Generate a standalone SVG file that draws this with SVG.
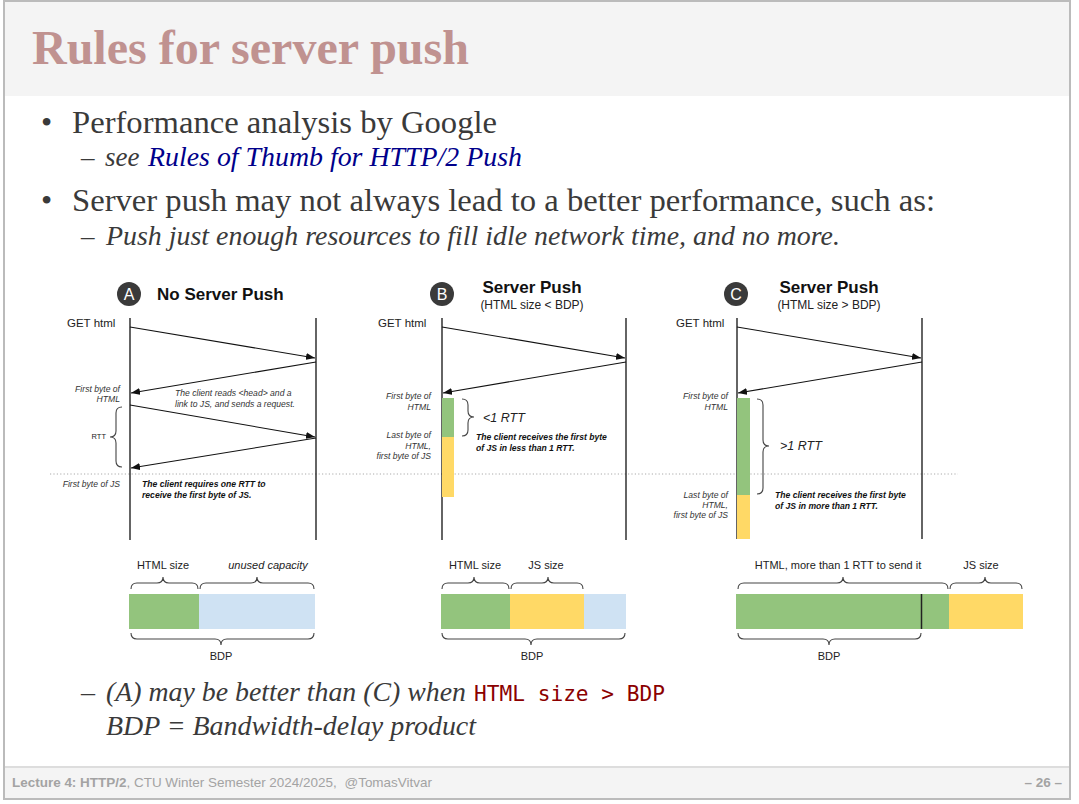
<svg xmlns="http://www.w3.org/2000/svg" width="1079" height="804" viewBox="0 0 1079 804">
  <style>
    .serif { font-family: "Liberation Serif", "Times New Roman", serif; fill: #3a3a3a; }
    .sans { font-family: "Liberation Sans", Arial, sans-serif; fill: #222; }
    .note { font-family: "Liberation Sans", Arial, sans-serif; font-size: 8.6px; font-style: italic; fill: #333; }
    .noteb { font-family: "Liberation Sans", Arial, sans-serif; font-size: 8.6px; font-style: italic; font-weight: bold; fill: #111; }
    .lbl { font-family: "Liberation Sans", Arial, sans-serif; font-size: 11px; fill: #222; }
    .life { stroke: #111; stroke-width: 1.3; fill: none; }
    .msg { stroke: #111; stroke-width: 1.1; fill: none; marker-end: url(#arrow); }
    .brace { stroke: #444; stroke-width: 1.1; fill: none; }
    .badge { fill: #3a3a3a; }
    .badgetxt { font-family: "Liberation Sans", Arial, sans-serif; font-size: 16px; fill: #fff; text-anchor: middle; }
    .head { font-family: "Liberation Sans", Arial, sans-serif; font-size: 17px; font-weight: bold; fill: #111; }
    .green { fill: #93c47d; }
    .yellow { fill: #ffd966; }
    .blue { fill: #cfe2f3; }
  </style>
  <defs>
    <marker id="arrow" markerUnits="userSpaceOnUse" markerWidth="9" markerHeight="7" refX="9" refY="3.5" orient="auto">
      <path d="M0,0 L9,3.5 L0,7 z" fill="#111"/>
    </marker>
  </defs>

  <!-- slide frame -->
  <rect x="0" y="0" width="1079" height="804" fill="#fff"/>
  <rect x="4" y="1" width="1066" height="798" fill="#fff" stroke="#bbb" stroke-width="2"/>
  <rect x="5" y="2" width="1064" height="94" fill="#f4f4f4"/>
  <rect x="5" y="767" width="1064" height="31" fill="#f4f4f4"/>
  <line x1="5" y1="767" x2="1069" y2="767" stroke="#ddd" stroke-width="2"/>

  <!-- title -->
  <text x="32" y="64" font-family="Liberation Serif, 'Times New Roman', serif" font-size="48" font-weight="bold" fill="#c09290">Rules for server push</text>

  <!-- bullet text -->
  <g id="bullets">
    <text class="serif" x="41" y="133" font-size="32">•</text>
    <text class="serif" x="72" y="133" font-size="32" textLength="425" lengthAdjust="spacingAndGlyphs">Performance analysis by Google</text>
    <text class="serif" x="81" y="166" font-size="27">–</text>
    <text class="serif" x="105" y="166" font-size="27" font-style="italic">see</text>
    <text x="148" y="166" font-family="Liberation Serif, 'Times New Roman', serif" font-size="27" font-style="italic" fill="#00008b" textLength="374" lengthAdjust="spacingAndGlyphs">Rules of Thumb for HTTP/2 Push</text>
    <text class="serif" x="41" y="211" font-size="32">•</text>
    <text class="serif" x="72" y="211" font-size="32" textLength="863" lengthAdjust="spacingAndGlyphs">Server push may not always lead to a better performance, such as:</text>
    <text class="serif" x="81" y="245" font-size="27">–</text>
    <text class="serif" x="106" y="245" font-size="27" font-style="italic" textLength="734" lengthAdjust="spacingAndGlyphs">Push just enough resources to fill idle network time, and no more.</text>
  </g>

  <!-- separator between request phase and response phase -->
  <line x1="50" y1="474" x2="958" y2="474" stroke="#aaa" stroke-width="1" stroke-dasharray="1.2,2.2"/>

  <!-- A: no server push -->
  <g id="panel-a">
    <circle class="badge" cx="129" cy="294" r="12"/>
    <text class="badgetxt" x="129" y="300">A</text>
    <text class="head" x="157" y="300">No Server Push</text>
    <text class="sans" x="67" y="327" font-size="11.5">GET html</text>
    <line class="life" x1="130" y1="318" x2="130" y2="540"/>
    <line class="life" x1="316" y1="318" x2="316" y2="540"/>
    <text class="note" x="120" y="392" text-anchor="end">First byte of</text>
    <text class="note" x="120" y="402" text-anchor="end">HTML</text>
    <text class="note" x="175" y="396">The client reads &lt;head&gt; and a</text>
    <text class="note" x="175" y="407">link to JS, and sends a request.</text>
    <path class="brace" d="M122,407 Q116,407 116,413 L116,431 Q116,437 110,437 Q116,437 116,443 L116,461 Q116,467 122,467"/>
    <text class="sans" x="106" y="439" font-size="7.5" text-anchor="end">RTT</text>
    <text class="note" x="120" y="487" text-anchor="end">First byte of JS</text>
    <text class="noteb" x="142" y="487">The client requires one RTT to</text>
    <text class="noteb" x="142" y="498">receive the first byte of JS.</text>
  </g>

  <!-- B: push, HTML smaller than BDP -->
  <g id="panel-b">
    <circle class="badge" cx="442" cy="294" r="12"/>
    <text class="badgetxt" x="442" y="300">B</text>
    <text class="head" x="532" y="293" text-anchor="middle">Server Push</text>
    <text class="sans" x="532" y="309" font-size="12" text-anchor="middle">(HTML size &lt; BDP)</text>
    <text class="sans" x="378" y="327" font-size="11.5">GET html</text>
    <line class="life" x1="442" y1="318" x2="442" y2="540"/>
    <line class="life" x1="626" y1="318" x2="626" y2="540"/>
    <rect class="green" x="442" y="398" width="12" height="39"/>
    <rect class="yellow" x="442" y="437" width="12" height="60"/>
    <text class="note" x="431" y="399" text-anchor="end">First byte of</text>
    <text class="note" x="431" y="410" text-anchor="end">HTML</text>
    <text class="note" x="431" y="438" text-anchor="end">Last byte of</text>
    <text class="note" x="431" y="449" text-anchor="end">HTML,</text>
    <text class="note" x="431" y="459" text-anchor="end">first byte of JS</text>
    <path class="brace" d="M462,399 Q468,399 468,405 L468,411 Q468,417 474,417 Q468,417 468,423 L468,430 Q468,436 462,436"/>
    <text class="sans" x="483" y="422" font-size="12.5" font-style="italic">&lt;1 RTT</text>
    <text class="noteb" x="476" y="440">The client receives the first byte</text>
    <text class="noteb" x="476" y="451">of JS in less than 1 RTT.</text>
  </g>

  <!-- C: push, HTML larger than BDP -->
  <g id="panel-c">
    <circle class="badge" cx="736" cy="294" r="12"/>
    <text class="badgetxt" x="736" y="300">C</text>
    <text class="head" x="829" y="293" text-anchor="middle">Server Push</text>
    <text class="sans" x="829" y="309" font-size="12" text-anchor="middle">(HTML size &gt; BDP)</text>
    <text class="sans" x="676" y="327" font-size="11.5">GET html</text>
    <line class="life" x1="737" y1="318" x2="737" y2="539"/>
    <line class="life" x1="922" y1="318" x2="922" y2="539"/>
    <rect class="green" x="737" y="398" width="13" height="97"/>
    <rect class="yellow" x="737" y="495" width="13" height="44"/>
    <text class="note" x="728" y="399" text-anchor="end">First byte of</text>
    <text class="note" x="728" y="410" text-anchor="end">HTML</text>
    <path class="brace" d="M757,399 Q763,399 763,405 L763,440 Q763,446 769,446 Q763,446 763,452 L763,488 Q763,494 757,494"/>
    <text class="sans" x="780" y="450" font-size="12.5" font-style="italic">&gt;1 RTT</text>
    <text class="note" x="728" y="498" text-anchor="end">Last byte of</text>
    <text class="note" x="728" y="508" text-anchor="end">HTML,</text>
    <text class="note" x="728" y="518" text-anchor="end">first byte of JS</text>
    <text class="noteb" x="775" y="498">The client receives the first byte</text>
    <text class="noteb" x="775" y="509">of JS in more than 1 RTT.</text>
  </g>

  <!-- request / response messages -->
  <g id="connectors">
    <line class="msg" x1="130" y1="327" x2="315" y2="358"/>
    <line class="msg" x1="316" y1="362" x2="131" y2="393"/>
    <line class="msg" x1="130" y1="405" x2="315" y2="437"/>
    <line class="msg" x1="316" y1="438" x2="131" y2="468"/>
    <line class="msg" x1="442" y1="327" x2="625" y2="358"/>
    <line class="msg" x1="626" y1="362" x2="443" y2="393"/>
    <line class="msg" x1="737" y1="327" x2="921" y2="358"/>
    <line class="msg" x1="922" y1="362" x2="738" y2="393"/>
  </g>

  <!-- capacity bars -->
  <g id="bar-a">
    <text class="lbl" x="163" y="569" text-anchor="middle">HTML size</text>
    <text class="lbl" x="268" y="569" text-anchor="middle" font-style="italic">unused capacity</text>
    <path class="brace" d="M131,589 Q131,583 137,583 L157,583 Q163,583 163,577 Q163,583 169,583 L192,583 Q198,583 198,589"/>
    <path class="brace" d="M200,589 Q200,583 206,583 L251,583 Q257,583 257,577 Q257,583 263,583 L308,583 Q314,583 314,589"/>
    <rect class="green" x="129" y="594" width="70" height="35"/>
    <rect class="blue" x="199" y="594" width="116" height="35"/>
    <path class="brace" d="M131,633 Q131,639 137,639 L215,639 Q221,639 221,645 Q221,639 227,639 L308,639 Q314,639 314,633"/>
    <text class="lbl" x="221" y="660" text-anchor="middle">BDP</text>
  </g>

  <g id="bar-b">
    <text class="lbl" x="475" y="569" text-anchor="middle">HTML size</text>
    <text class="lbl" x="546" y="569" text-anchor="middle">JS size</text>
    <path class="brace" d="M442,589 Q442,583 448,583 L468,583 Q474,583 474,577 Q474,583 480,583 L503,583 Q509,583 509,589"/>
    <path class="brace" d="M511,589 Q511,583 517,583 L542,583 Q548,583 548,577 Q548,583 554,583 L577,583 Q583,583 583,589"/>
    <rect class="green" x="441" y="594" width="69" height="35"/>
    <rect class="yellow" x="510" y="594" width="74" height="35"/>
    <rect class="blue" x="584" y="594" width="42" height="35"/>
    <path class="brace" d="M442,633 Q442,639 448,639 L525,639 Q531,639 531,645 Q531,639 537,639 L619,639 Q625,639 625,633"/>
    <text class="lbl" x="532" y="660" text-anchor="middle">BDP</text>
  </g>

  <g id="bar-c">
    <text class="lbl" x="838" y="569" text-anchor="middle">HTML, more than 1 RTT to send it</text>
    <text class="lbl" x="981" y="569" text-anchor="middle">JS size</text>
    <path class="brace" d="M738,589 Q738,583 744,583 L837,583 Q843,583 843,577 Q843,583 849,583 L942,583 Q948,583 948,589"/>
    <path class="brace" d="M950,589 Q950,583 956,583 L979,583 Q985,583 985,577 Q985,583 991,583 L1016,583 Q1022,583 1022,589"/>
    <rect class="green" x="736" y="594" width="213" height="35"/>
    <rect class="yellow" x="949" y="594" width="74" height="35"/>
    <line x1="921.5" y1="594" x2="921.5" y2="629" stroke="#222" stroke-width="1.5"/>
    <path class="brace" d="M738,633 Q738,639 744,639 L823,639 Q829,639 829,645 Q829,639 835,639 L915,639 Q921,639 921,633"/>
    <text class="lbl" x="829" y="660" text-anchor="middle">BDP</text>
  </g>

  <!-- closing remark -->
  <g id="remark">
    <text class="serif" x="81" y="701" font-size="28">–</text>
    <text class="serif" x="106" y="701" font-size="28" font-style="italic" textLength="360" lengthAdjust="spacingAndGlyphs">(A) may be better than (C) when</text>
    <text x="474" y="701" font-family="'DejaVu Sans Mono', 'Liberation Mono', monospace" font-size="21" fill="#8b0000" textLength="191" lengthAdjust="spacingAndGlyphs">HTML size &gt; BDP</text>
    <text class="serif" x="106" y="735" font-size="28" font-style="italic" textLength="370" lengthAdjust="spacingAndGlyphs">BDP = Bandwidth-delay product</text>
  </g>

  <!-- footer -->
  <g id="footer" font-family="'Liberation Sans', Arial, sans-serif" font-size="13.5" fill="#a3a3a3">
    <text x="12" y="787" textLength="420" lengthAdjust="spacingAndGlyphs"><tspan font-weight="bold">Lecture 4: HTTP/2</tspan>, CTU Winter Semester 2024/2025, <tspan dx="4">@TomasVitvar</tspan></text>
    <text x="1062" y="787" text-anchor="end" font-weight="bold">– 26 –</text>
  </g>
</svg>
